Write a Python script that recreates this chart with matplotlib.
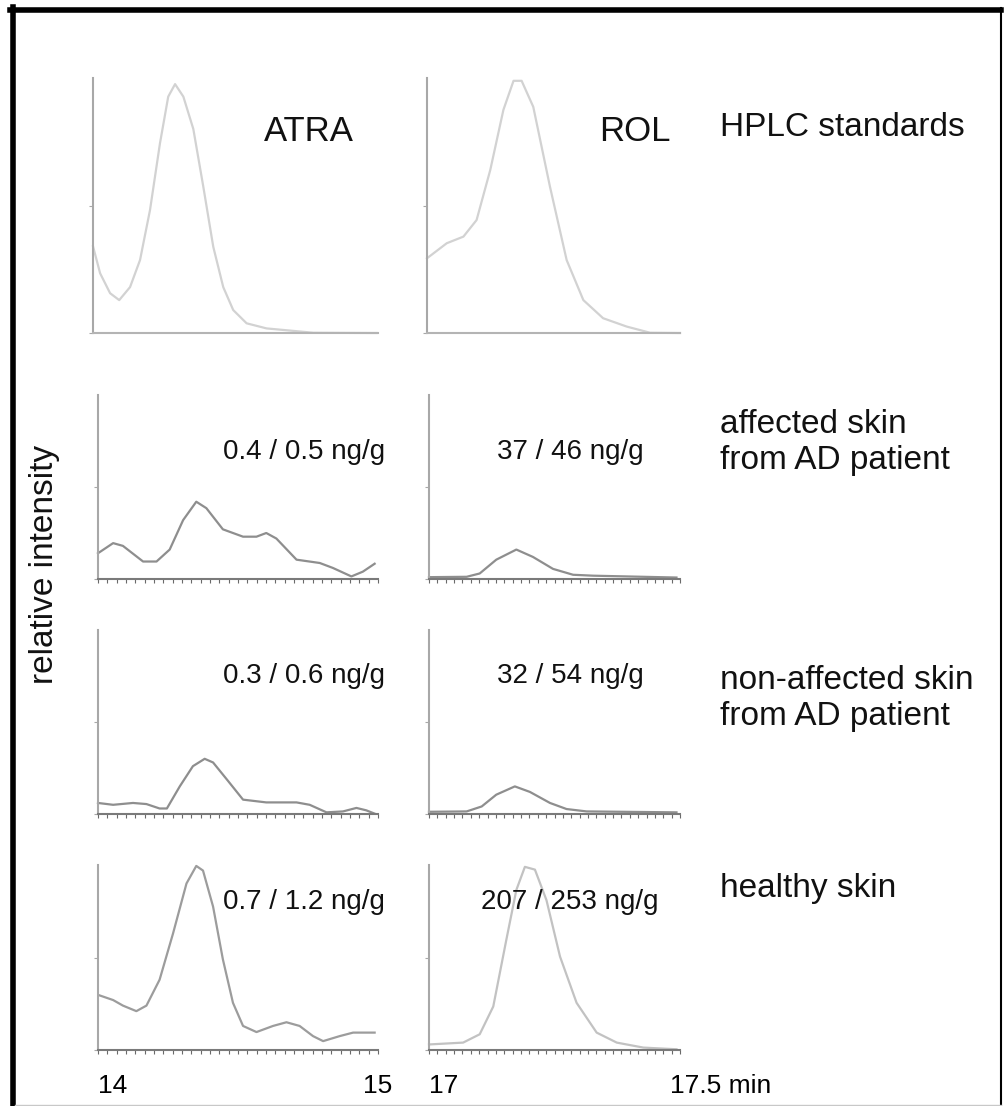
import matplotlib.pyplot as plt
from matplotlib.lines import Line2D
from matplotlib.ticker import MultipleLocator

plt.rcParams["font.family"] = ["Liberation Sans", "DejaVu Sans"]

# ---------------------------------------------------------------------
# Data (retention time in min, rel. intensity)
# ---------------------------------------------------------------------

atra_std_t = [14.0, 14.025, 14.06, 14.092, 14.13, 14.165, 14.2, 14.235, 14.264,
              14.288, 14.317, 14.352, 14.387, 14.422, 14.457, 14.492, 14.539,
              14.609, 14.773, 14.995]
atra_std_i = [0.34, 0.234, 0.156, 0.129, 0.18, 0.286, 0.482, 0.744, 0.927,
              0.976, 0.927, 0.80, 0.574, 0.338, 0.18, 0.09, 0.038,
              0.018, 0.001, 0.0]

rol_std_t = [17.0, 17.039, 17.072, 17.098, 17.125, 17.151, 17.171, 17.187,
             17.21, 17.243, 17.276, 17.309, 17.348, 17.395, 17.441, 17.5]
rol_std_i = [0.293, 0.352, 0.378, 0.443, 0.639, 0.875, 0.989, 0.989,
             0.887, 0.574, 0.286, 0.129, 0.058, 0.025, 0.001, 0.0]

atra_aff_t = [14.0, 14.054, 14.089, 14.161, 14.209, 14.256, 14.304, 14.351,
              14.387, 14.446, 14.518, 14.566, 14.601, 14.637, 14.709, 14.792,
              14.839, 14.905, 14.946, 14.988]
atra_aff_i = [0.14, 0.195, 0.18, 0.095, 0.095, 0.16, 0.32, 0.42,
              0.385, 0.27, 0.23, 0.23, 0.25, 0.22, 0.105, 0.087,
              0.06, 0.014, 0.04, 0.083]

rol_aff_t = [17.0, 17.075, 17.101, 17.134, 17.174, 17.207, 17.247, 17.287,
             17.327, 17.493]
rol_aff_i = [0.01, 0.012, 0.03, 0.105, 0.16, 0.12, 0.055, 0.023,
             0.018, 0.008]

atra_non_t = [14.0, 14.054, 14.125, 14.173, 14.22, 14.246, 14.292, 14.339,
              14.381, 14.411, 14.459, 14.518, 14.601, 14.709, 14.756, 14.816,
              14.875, 14.923, 14.958, 14.988]
atra_non_i = [0.06, 0.05, 0.06, 0.054, 0.03, 0.03, 0.15, 0.26,
              0.30, 0.28, 0.19, 0.078, 0.063, 0.063, 0.05, 0.009,
              0.014, 0.033, 0.02, 0.002]

rol_non_t = [17.0, 17.075, 17.105, 17.134, 17.171, 17.201, 17.241, 17.274,
             17.314, 17.493]
rol_non_i = [0.012, 0.014, 0.041, 0.105, 0.15, 0.12, 0.06, 0.027,
             0.014, 0.009]

atra_hea_t = [14.006, 14.054, 14.089, 14.137, 14.173, 14.22, 14.268, 14.316,
              14.351, 14.375, 14.411, 14.446, 14.482, 14.518, 14.566, 14.625,
              14.673, 14.72, 14.768, 14.804, 14.863, 14.911, 14.988]
atra_hea_i = [0.295, 0.27, 0.24, 0.21, 0.24, 0.38, 0.63, 0.90,
              0.995, 0.97, 0.775, 0.49, 0.255, 0.13, 0.097, 0.13,
              0.15, 0.13, 0.075, 0.048, 0.075, 0.094, 0.094]

rol_hea_t = [17.0, 17.068, 17.101, 17.128, 17.154, 17.174, 17.191, 17.211,
             17.234, 17.261, 17.294, 17.334, 17.374, 17.427, 17.493]
rol_hea_i = [0.03, 0.04, 0.085, 0.235, 0.595, 0.865, 0.99, 0.975,
             0.81, 0.505, 0.255, 0.094, 0.04, 0.013, 0.004]

atra_notes = ["ATRA", "0.4 / 0.5 ng/g", "0.3 / 0.6 ng/g", "0.7 / 1.2 ng/g"]
rol_notes = ["ROL", "37 / 46 ng/g", "32 / 54 ng/g", "207 / 253 ng/g"]
row_labels = ["HPLC standards", "affected skin\nfrom AD patient",
              "non-affected skin\nfrom AD patient", "healthy skin"]

atra_curves = [(atra_std_t, atra_std_i), (atra_aff_t, atra_aff_i),
               (atra_non_t, atra_non_i), (atra_hea_t, atra_hea_i)]
rol_curves = [(rol_std_t, rol_std_i), (rol_aff_t, rol_aff_i),
              (rol_non_t, rol_non_i), (rol_hea_t, rol_hea_i)]

# ---------------------------------------------------------------------
# Layout (pixels of a 1005 x 1106 canvas)
# ---------------------------------------------------------------------

W, H = 1005, 1106
row_tops = [78, 395, 630, 865]
row_bots = [333, 579, 814, 1050]
atra_x = [(93, 378), (98, 378), (98, 378), (98, 378)]
rol_x = [(427, 680), (429, 680), (429, 680), (429, 680)]
atra_colors = ["#d2d2d2", "#8e8e8e", "#8e8e8e", "#9c9c9c"]
rol_colors = ["#d2d2d2", "#8e8e8e", "#8e8e8e", "#c2c2c2"]
note_base = [141, 459, 683, 909]
label_base = [136, 433, 689, 897]


def rect(x0, x1, top, bot):
    return [x0 / W, 1 - bot / H, (x1 - x0) / W, (bot - top) / H]


def style_axis(ax, xlim, row, step):
    ax.set_xlim(*xlim)
    ax.set_ylim(0, 1)
    ax.set_facecolor("none")
    for side in ["top", "right"]:
        ax.spines[side].set_visible(False)
    ax.spines["left"].set_color("#a8a8a8")
    ax.spines["left"].set_linewidth(1.5)
    ax.spines["bottom"].set_color("#b4b4b4" if row == 0 else "#7a7a7a")
    ax.spines["bottom"].set_linewidth(1.5)
    ax.set_xticks([])
    ax.set_yticks([0, 0.5])
    ax.set_yticklabels([])
    ax.tick_params(axis="y", length=3, color="#a8a8a8")
    if row > 0:
        ax.xaxis.set_minor_locator(MultipleLocator(step))
        ax.tick_params(axis="x", which="minor", length=3, color="#6a6a6a", width=0.8)


fig = plt.figure(figsize=(W / 100, H / 100), dpi=100)

for row in range(4):
    ax_a = fig.add_axes(rect(*atra_x[row], row_tops[row], row_bots[row]))
    style_axis(ax_a, (14, 15), row, 1 / 30)
    ax_a.plot(*atra_curves[row], color=atra_colors[row], lw=1.6,
              solid_joinstyle="round", clip_on=False)

    ax_r = fig.add_axes(rect(*rol_x[row], row_tops[row], row_bots[row]))
    style_axis(ax_r, (17, 17.5), row, 0.5 / 30)
    ax_r.plot(*rol_curves[row], color=rol_colors[row], lw=1.6,
              solid_joinstyle="round", clip_on=False)

    # concentration / compound notes
    if row == 0:
        fig.text(309 / W, 1 - note_base[row] / H, atra_notes[row], fontsize=25,
                 ha="center", va="baseline", color="#111111")
        fig.text(635 / W, 1 - note_base[row] / H, rol_notes[row], fontsize=25,
                 ha="center", va="baseline", color="#111111")
    else:
        fig.text(385 / W, 1 - note_base[row] / H, atra_notes[row], fontsize=20,
                 ha="right", va="baseline", color="#111111")
        fig.text(570 / W, 1 - note_base[row] / H, rol_notes[row], fontsize=20,
                 ha="center", va="baseline", color="#111111")

    lines = row_labels[row].split("\n")
    for k, line in enumerate(lines):
        fig.text(720 / W, 1 - (label_base[row] + 36 * k) / H, line, fontsize=24,
                 ha="left", va="baseline", color="#111111")

    if row == 3:
        tr_a = ax_a.get_xaxis_transform()
        ax_a.text(14, -0.23, "14", transform=tr_a, fontsize=19, ha="left", va="baseline")
        ax_a.text(15, -0.23, "15", transform=tr_a, fontsize=19, ha="center", va="baseline")
        tr_r = ax_r.get_xaxis_transform()
        ax_r.text(17, -0.23, "17", transform=tr_r, fontsize=19, ha="left", va="baseline")
        ax_r.text(17.48, -0.23, "17.5 min", transform=tr_r, fontsize=19,
                  ha="left", va="baseline")

fig.text(45 / W, 1 - 564 / H, "relative intensity", fontsize=24, rotation=90,
         ha="center", va="center", color="#111111")

# outer frame
fig.add_artist(Line2D([12.5 / W, 12.5 / W], [0, 1 - 7 / H], color="black", lw=4,
                      transform=fig.transFigure))
fig.add_artist(Line2D([10 / W, 1001 / W], [1 - 10 / H, 1 - 10 / H], color="black", lw=4,
                      transform=fig.transFigure))
fig.add_artist(Line2D([1001 / W, 1001 / W], [0, 1 - 8 / H], color="black", lw=1.5,
                      transform=fig.transFigure))
fig.add_artist(Line2D([15 / W, 1001 / W], [1 - 1104.5 / H, 1 - 1104.5 / H],
                      color="#c8c8c8", lw=1, transform=fig.transFigure))

fig.savefig("out.png", dpi=100, facecolor="white")
